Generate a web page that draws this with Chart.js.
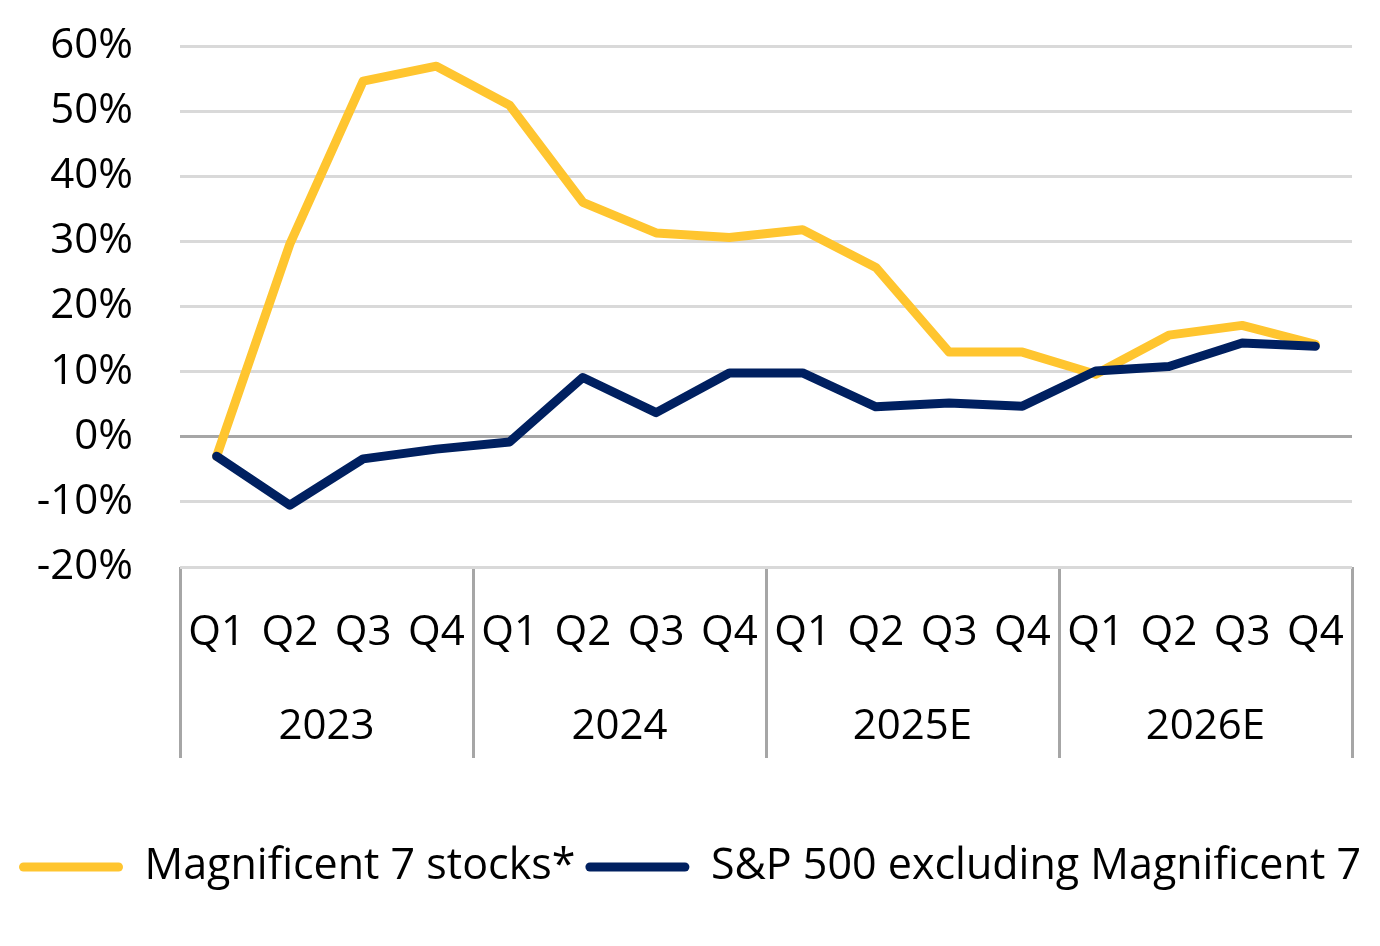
<!DOCTYPE html>
<html>
<head>
<meta charset="utf-8">
<script src="https://cdn.jsdelivr.net/npm/chart.js@4.4.1/dist/chart.umd.min.js"></script>
<style>
  body { margin: 0; background: #fff; }
  #wrap { width: 1380px; height: 946px; }
</style>
</head>
<body>
<div id="wrap"><canvas id="myChart" width="1380" height="946"></canvas></div>
<script>
// quarters under each year, earnings growth y/y in %
var quarters = ['Q1','Q2','Q3','Q4','Q1','Q2','Q3','Q4','Q1','Q2','Q3','Q4','Q1','Q2','Q3','Q4']
var years = ['2023','2024','2025E','2026E']
var mag7 = [-3.0, 29.6, 54.6, 56.9, 50.9, 36.0, 31.3, 30.6, 31.8, 26.0, 13.0, 13.0, 9.6, 15.6, 17.1, 14.2]
var spxExMag7 = [-3.0, -10.5, -3.4, -1.9, -0.8, 9.1, 3.7, 9.8, 9.8, 4.6, 5.2, 4.7, 10.1, 10.8, 14.4, 13.9]
var seriesNames = ['Magnificent 7 stocks*', 'S&P 500 excluding Magnificent 7']

var yellow = '#FFC52F'
var navy = '#002060'
var font = { family: "'Open Sans', sans-serif", size: 42 }

// gray separators only at year boundaries
function sepColor(ctx) {
  if (ctx.type !== 'tick' || ctx.index % 4 === 0) return '#a6a6a6'
  return 'rgba(0,0,0,0)'
}

var data = {
  labels: quarters,
  datasets: [{
    label: seriesNames[0],
    data: mag7,
    borderColor: yellow,
    backgroundColor: yellow,
    borderWidth: 9,
    borderCapStyle: 'round',
    borderJoinStyle: 'round',
    pointRadius: 0,
    tension: 0,
    order: 1
  }, {
    label: seriesNames[1],
    data: spxExMag7,
    borderColor: navy,
    backgroundColor: navy,
    borderWidth: 9,
    borderCapStyle: 'round',
    borderJoinStyle: 'round',
    pointRadius: 0,
    tension: 0,
    order: 0
  }]
}

const config = {
  type: 'line',
  data,
  options: {
    responsive: false,
    animation: false,
    devicePixelRatio: 1,
    layout: { padding: { top: 46, right: 0, bottom: 47.5, left: 0 } },
    plugins: {
      tooltip: { enabled: false },
      legend: {
        position: 'bottom',
        labels: {
          font: { family: font.family, size: 43 },
          color: '#000',
          boxWidth: 104,
          boxHeight: 9,
          useBorderRadius: true,
          borderRadius: 4.5,
          padding: 10,
          sort: function (a, b) { return a.datasetIndex - b.datasetIndex },
          generateLabels: function (chart) {
            return Chart.defaults.plugins.legend.labels.generateLabels(chart).map(function (l) {
              l.lineWidth = 0
              return l
            })
          }
        }
      }
    },
    scales: {
      x: {
        type: 'category',
        offset: true,
        weight: 0,
        border: { display: false },
        grid: {
          offset: true,
          drawOnChartArea: false,
          drawTicks: true,
          tickLength: 100,
          lineWidth: 3,
          color: sepColor
        },
        ticks: { font: font, color: '#000', padding: -59, maxRotation: 0, autoSkip: false },
        afterFit: function (scale) { scale.height = 100 }
      },
      x2: {
        type: 'category',
        axis: 'x',
        position: 'bottom',
        labels: years,
        offset: true,
        weight: 1,
        border: { display: false },
        grid: {
          offset: true,
          drawOnChartArea: false,
          drawTicks: true,
          tickLength: 91,
          lineWidth: 3,
          color: '#a6a6a6'
        },
        ticks: { font: font, color: '#000', padding: -56, maxRotation: 0 },
        afterFit: function (scale) { scale.height = 168.5 }
      },
      y: {
        min: -20,
        max: 60,
        border: { display: false },
        grid: {
          drawTicks: true,
          tickLength: 44,
          tickColor: 'rgba(0,0,0,0)',
          lineWidth: 3,
          color: function (ctx) { return ctx.tick && ctx.tick.value === 0 ? '#a6a6a6' : '#d9d9d9' }
        },
        ticks: {
          stepSize: 10,
          font: font,
          color: '#000',
          padding: 3,
          callback: function (v) { return v + '%' }
        },
        afterFit: function (scale) { scale.width = 180 }
      },
      // empty strip on the right so the legend stays centred on the page
      yRight: {
        type: 'linear',
        position: 'right',
        grid: { display: false },
        border: { display: false },
        ticks: { display: false },
        afterFit: function (scale) { scale.width = 28 }
      }
    }
  }
}

var myChart = new Chart(document.getElementById('myChart'), config)
</script>
</body>
</html>
